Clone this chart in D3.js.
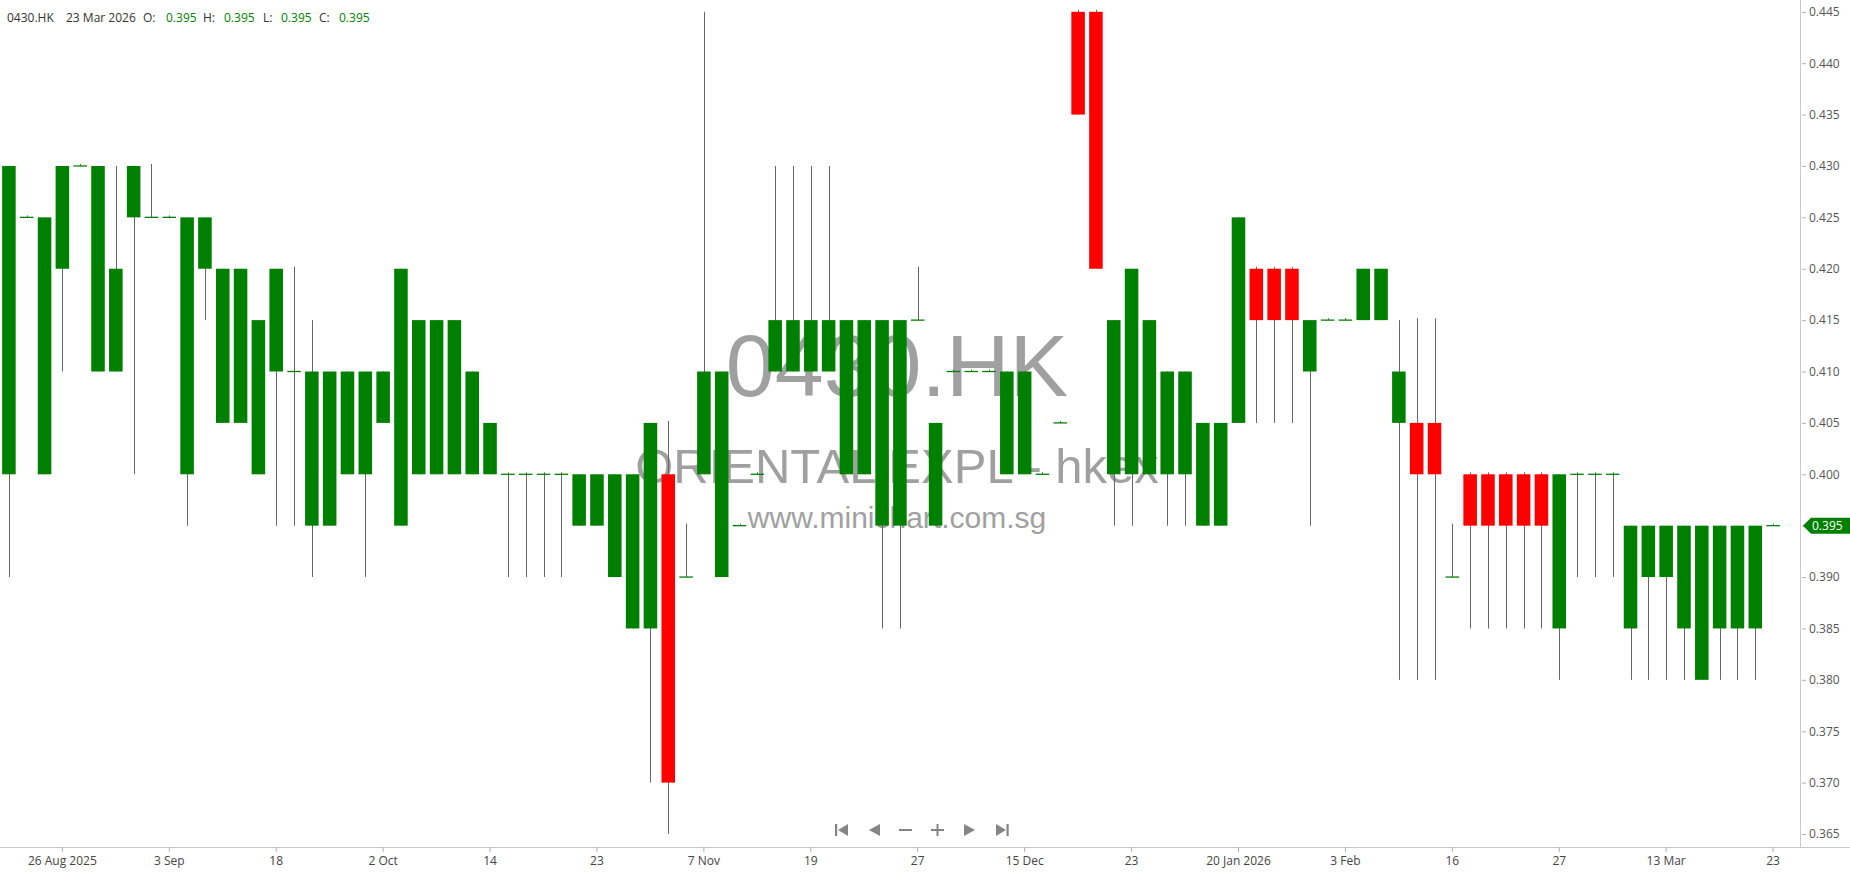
<!DOCTYPE html>
<html>
<head>
<meta charset="utf-8">
<script src="https://cdn.jsdelivr.net/npm/d3@7"></script>
<style>
  html, body { margin: 0; padding: 0; background: #fff; }
  svg { display: block; }
</style>
</head>
<body>
<svg id="chart" width="1850" height="874"></svg>
<script>
// ---- data ----
const symbol = "0430.HK";
const companyName = "ORIENTAL EXPL - hkex";
const siteName = "www.minichart.com.sg";
const lastDate = "23 Mar 2026";

// body bottom/top as open/close (green: close >= open, red: close < open)
const open = [
  0.400,0.425,0.400,0.420,0.430,0.410,0.410,0.425,0.425,0.425,
  0.400,0.420,0.405,0.405,0.400,0.410,0.410,0.395,0.395,0.400,
  0.400,0.405,0.395,0.400,0.400,0.400,0.400,0.400,0.400,0.400,
  0.400,0.400,0.395,0.395,0.390,0.385,0.385,0.400,0.390,0.400,
  0.390,0.395,0.400,0.410,0.410,0.410,0.410,0.400,0.400,0.395,
  0.395,0.415,0.395,0.410,0.410,0.410,0.400,0.400,0.400,0.405,
  0.445,0.445,0.400,0.400,0.400,0.400,0.400,0.395,0.395,0.405,
  0.420,0.420,0.420,0.410,0.415,0.415,0.415,0.415,0.405,0.405,
  0.405,0.390,0.400,0.400,0.400,0.400,0.400,0.385,0.400,0.400,
  0.400,0.385,0.390,0.390,0.385,0.380,0.385,0.385,0.385,0.395
];
const close = [
  0.430,0.425,0.425,0.430,0.430,0.430,0.420,0.430,0.425,0.425,
  0.425,0.425,0.420,0.420,0.415,0.420,0.410,0.410,0.410,0.410,
  0.410,0.410,0.420,0.415,0.415,0.415,0.410,0.405,0.400,0.400,
  0.400,0.400,0.400,0.400,0.400,0.400,0.405,0.370,0.390,0.410,
  0.410,0.395,0.400,0.415,0.415,0.415,0.415,0.415,0.415,0.415,
  0.415,0.415,0.405,0.410,0.410,0.410,0.410,0.410,0.400,0.405,
  0.435,0.420,0.415,0.420,0.415,0.410,0.410,0.405,0.405,0.425,
  0.415,0.415,0.415,0.415,0.415,0.415,0.420,0.420,0.410,0.400,
  0.400,0.390,0.395,0.395,0.395,0.395,0.395,0.400,0.400,0.400,
  0.400,0.395,0.395,0.395,0.395,0.395,0.395,0.395,0.395,0.395
];
const high = [
  0.430,0.425,0.425,0.430,0.430,0.430,0.430,0.430,0.430,0.425,
  0.425,0.425,0.420,0.420,0.415,0.420,0.420,0.415,0.410,0.410,
  0.410,0.410,0.420,0.415,0.415,0.415,0.410,0.405,0.400,0.400,
  0.400,0.400,0.400,0.400,0.400,0.400,0.405,0.405,0.395,0.445,
  0.410,0.395,0.400,0.430,0.430,0.430,0.430,0.415,0.415,0.415,
  0.415,0.420,0.405,0.410,0.410,0.410,0.410,0.410,0.400,0.405,
  0.445,0.445,0.415,0.420,0.415,0.410,0.410,0.405,0.405,0.425,
  0.420,0.420,0.420,0.415,0.415,0.415,0.420,0.420,0.415,0.415,
  0.415,0.395,0.400,0.400,0.400,0.400,0.400,0.400,0.400,0.400,
  0.400,0.395,0.395,0.395,0.395,0.395,0.395,0.395,0.395,0.395
];
const low = [
  0.390,0.425,0.400,0.410,0.430,0.410,0.410,0.400,0.425,0.425,
  0.395,0.415,0.405,0.405,0.400,0.395,0.395,0.390,0.395,0.400,
  0.390,0.405,0.395,0.400,0.400,0.400,0.400,0.400,0.390,0.390,
  0.390,0.390,0.395,0.395,0.390,0.385,0.370,0.365,0.390,0.400,
  0.390,0.395,0.400,0.410,0.410,0.410,0.410,0.400,0.400,0.385,
  0.385,0.415,0.395,0.410,0.410,0.410,0.400,0.400,0.400,0.405,
  0.435,0.420,0.395,0.395,0.400,0.395,0.395,0.395,0.395,0.405,
  0.405,0.405,0.405,0.395,0.415,0.415,0.415,0.415,0.380,0.380,
  0.380,0.390,0.385,0.385,0.385,0.385,0.385,0.380,0.390,0.390,
  0.390,0.380,0.380,0.380,0.380,0.380,0.380,0.380,0.380,0.395
];
const tickIndex = [3,9,15,21,27,33,39,45,51,57,63,69,75,81,87,93,99];
const tickLabels = ["26 Aug 2025","3 Sep","18","2 Oct","14","23","7 Nov","19","27",
                    "15 Dec","23","20 Jan 2026","3 Feb","16","27","13 Mar","23"];
const priceTicks = [0.365,0.370,0.375,0.380,0.385,0.390,0.395,0.400,0.405,
                    0.410,0.415,0.420,0.425,0.430,0.435,0.440,0.445];
const lastPrice = 0.395;

// ---- drawing ----
const svg = d3.select("#chart");
const W = 1850, H = 874;
const axisX = 1800, axisY = 847;
const GREEN = "#008000", RED = "#ff0000";
const fmt = d3.format(".3f");

const x = d3.scaleBand().domain(d3.range(open.length)).range([0, 1782])
  .paddingInner(0.24).paddingOuter(0.12);
const y = d3.scaleLinear().domain([0.365, 0.445]).range([834, 11.8]);
const cx = i => x(i) + x.bandwidth() / 2;

// watermark
const wm = svg.append("g").attr("fill", "#a0a0a0")
  .attr("font-family", "'Liberation Sans', Arial, sans-serif").attr("text-anchor", "middle");
wm.append("text").attr("x", 897).attr("y", 396).attr("font-size", 88).text(symbol);
wm.append("text").attr("x", 897).attr("y", 483).attr("font-size", 49).text(companyName);
wm.append("text").attr("x", 897).attr("y", 528).attr("font-size", 30).text(siteName);

// candles
const data = open.map((o, i) => ({i, o, c: close[i], h: high[i], l: low[i]}));
const g = svg.append("g");
const isDoji = d => Math.abs(d.o - d.c) < 1e-9;
const isUp = d => d.c >= d.o;

g.selectAll("line.wick").data(data).join("line")
  .attr("class", "wick")
  .attr("x1", d => Math.round(cx(d.i)) + 0.5).attr("x2", d => Math.round(cx(d.i)) + 0.5)
  .attr("y1", d => y(d.h) - ((!isUp(d) || isDoji(d)) ? 2 : 0))
  .attr("y2", d => y(d.l))
  .attr("stroke", "#666").attr("stroke-width", 1);

g.selectAll("rect.body").data(data.filter(d => !isDoji(d))).join("rect")
  .attr("class", "body")
  .attr("x", d => x(d.i)).attr("width", x.bandwidth())
  .attr("y", d => y(Math.max(d.o, d.c)))
  .attr("height", d => y(Math.min(d.o, d.c)) - y(Math.max(d.o, d.c)))
  .attr("fill", d => isUp(d) ? GREEN : RED);

g.selectAll("line.doji").data(data.filter(isDoji)).join("line")
  .attr("class", "doji")
  .attr("x1", d => x(d.i)).attr("x2", d => x(d.i) + x.bandwidth())
  .attr("y1", d => y(d.o)).attr("y2", d => y(d.o))
  .attr("stroke", GREEN).attr("stroke-width", 1.3);

// axes lines
svg.append("line").attr("x1", axisX + 0.5).attr("x2", axisX + 0.5).attr("y1", 0).attr("y2", axisY)
  .attr("stroke", "#c8c8c8");
svg.append("line").attr("x1", 0).attr("x2", W).attr("y1", axisY + 0.5).attr("y2", axisY + 0.5)
  .attr("stroke", "#c8c8c8");

// right axis (the last-price label is shown in the tag instead)
const yAxis = d3.axisRight(y).tickValues(priceTicks)
  .tickFormat(d => Math.abs(d - lastPrice) < 1e-9 ? "" : fmt(d)).tickSize(4).tickPadding(3);
const ya = svg.append("g").attr("transform", `translate(${axisX + 2},0)`).call(yAxis);
ya.select(".domain").remove();
ya.selectAll(".tick line").attr("stroke", "#b0b0b0");
ya.selectAll(".tick text").attr("fill", "#555").attr("font-size", 12)
  .attr("font-family", "'Open Sans', 'Segoe UI', sans-serif");

// bottom axis
const xAxis = d3.axisBottom(x).tickValues(tickIndex)
  .tickFormat((d, k) => tickLabels[k]).tickSize(5).tickPadding(4);
const xa = svg.append("g").attr("transform", `translate(0,${axisY})`).call(xAxis);
xa.select(".domain").remove();
xa.selectAll(".tick line").attr("stroke", "#b0b0b0");
xa.selectAll(".tick text").attr("fill", "#444").attr("font-size", 12)
  .attr("font-family", "'Open Sans', 'Segoe UI', sans-serif");

// last price tag
const ty = y(lastPrice);
svg.append("path")
  .attr("d", `M${axisX + 3},${ty} L${axisX + 11},${ty - 8} L${W},${ty - 8} L${W},${ty + 8} L${axisX + 11},${ty + 8} Z`)
  .attr("fill", GREEN);
svg.append("text").attr("x", axisX + 12).attr("y", ty + 4.5)
  .attr("fill", "#fff").attr("font-size", 12)
  .attr("font-family", "'Open Sans', 'Segoe UI', sans-serif")
  .text(fmt(lastPrice));

// header
const hdr = svg.append("g").attr("font-size", 12)
  .attr("font-family", "'Open Sans', 'Segoe UI', sans-serif");
const hdrItems = [
  {t: symbol, x: 7, c: "#333"},
  {t: lastDate, x: 66, c: "#333"},
  {t: "O:", x: 143, c: "#333"}, {t: fmt(open[open.length-1]), x: 166, c: GREEN},
  {t: "H:", x: 203, c: "#333"}, {t: fmt(high[high.length-1]), x: 224, c: GREEN},
  {t: "L:", x: 263, c: "#333"}, {t: fmt(low[low.length-1]), x: 281, c: GREEN},
  {t: "C:", x: 319, c: "#333"}, {t: fmt(close[close.length-1]), x: 339, c: GREEN}
];
hdr.selectAll("text").data(hdrItems).join("text")
  .attr("x", d => d.x).attr("y", 22).attr("fill", d => d.c).text(d => d.t);

// navigation icons
const nav = svg.append("g").attr("fill", "#858585");
const ny = 830;
nav.append("rect").attr("x", 835).attr("y", ny - 6).attr("width", 2.2).attr("height", 12);
nav.append("path").attr("d", `M848,${ny-6} L848,${ny+6} L838,${ny} Z`);
nav.append("path").attr("d", `M880,${ny-6} L880,${ny+6} L869,${ny} Z`);
nav.append("rect").attr("x", 899).attr("y", ny - 1).attr("width", 13).attr("height", 2);
nav.append("rect").attr("x", 931).attr("y", ny - 1).attr("width", 13).attr("height", 2);
nav.append("rect").attr("x", 936.5).attr("y", ny - 6).attr("width", 2).attr("height", 12);
nav.append("path").attr("d", `M964,${ny-6} L964,${ny+6} L975,${ny} Z`);
nav.append("path").attr("d", `M996,${ny-6} L996,${ny+6} L1006,${ny} Z`);
nav.append("rect").attr("x", 1006.5).attr("y", ny - 6).attr("width", 2.2).attr("height", 12);
</script>
</body>
</html>
